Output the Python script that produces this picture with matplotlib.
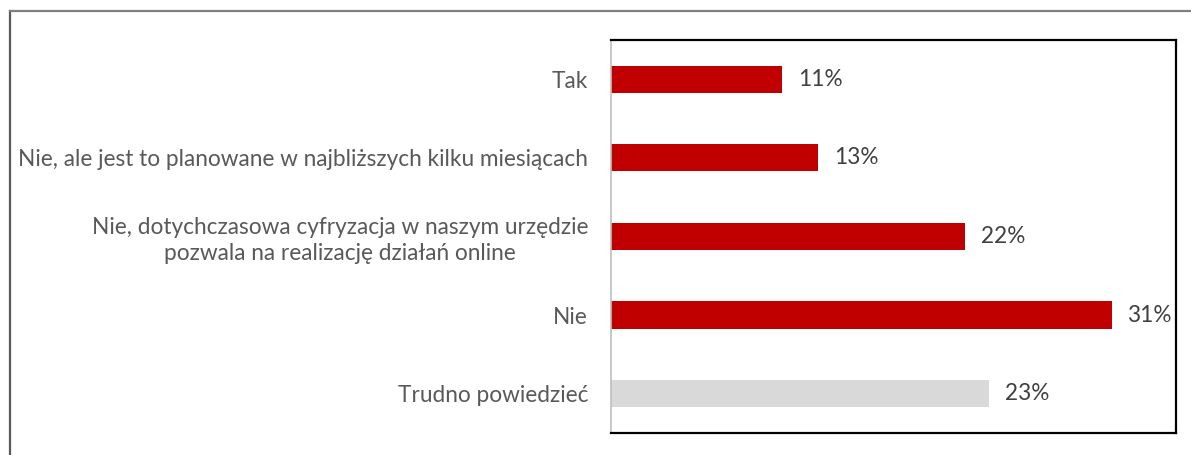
import matplotlib
matplotlib.use("Agg")
import matplotlib.pyplot as plt
from matplotlib.lines import Line2D

categories = [
    "Tak",
    "Nie, ale jest to planowane w najbliższych kilku miesiącach",
    "Nie, dotychczasowa cyfryzacja w naszym urzędzie\npozwala na realizację działań online",
    "Nie",
    "Trudno powiedzieć",
]
values = [10.6, 12.8, 21.9, 31.0, 23.4]
value_labels = ["11%", "13%", "22%", "31%", "23%"]
bar_colors = ["#c00000", "#c00000", "#c00000", "#c00000", "#d9d9d9"]

plt.rcParams["font.family"] = ["Lato", "DejaVu Sans"]

fig = plt.figure(figsize=(11.91, 4.55), dpi=100)
ax = fig.add_axes([0.513, 0.0484, 0.4745, 0.864])

y = list(range(len(categories)))
ax.barh(y, values, height=0.345, color=bar_colors)
ax.set_xlim(0, 35)
ax.set_ylim(len(categories) - 0.5, -0.5)

for yi, v, lab in zip(y, values, value_labels):
    ax.annotate(lab, xy=(v, yi), xytext=(11.5, 0), textcoords="offset points",
                ha="left", va="center", fontsize=16.3, color="#404040")

ax.set_yticks(y)
ax.set_yticklabels(categories, fontsize=16.3, color="#595959", linespacing=1.25,
                   multialignment="center")
ax.tick_params(axis="y", length=0, pad=16.5)
ax.set_xticks([])

for side in ["top", "right", "bottom"]:
    ax.spines[side].set_color("black")
    ax.spines[side].set_linewidth(1.6)
ax.spines["left"].set_color("#bfbfbf")
ax.spines["left"].set_linewidth(1.2)

# outer chart frame (left and top edges only visible)
fig.add_artist(Line2D([9.5 / 1191, 9.5 / 1191], [0, 1 - 11 / 455],
                      transform=fig.transFigure, color="#595959", lw=1.6))
fig.add_artist(Line2D([9.5 / 1191, 1], [1 - 11 / 455, 1 - 11 / 455],
                      transform=fig.transFigure, color="#7f7f7f", lw=1.6))

fig.savefig("out.png", dpi=100)
